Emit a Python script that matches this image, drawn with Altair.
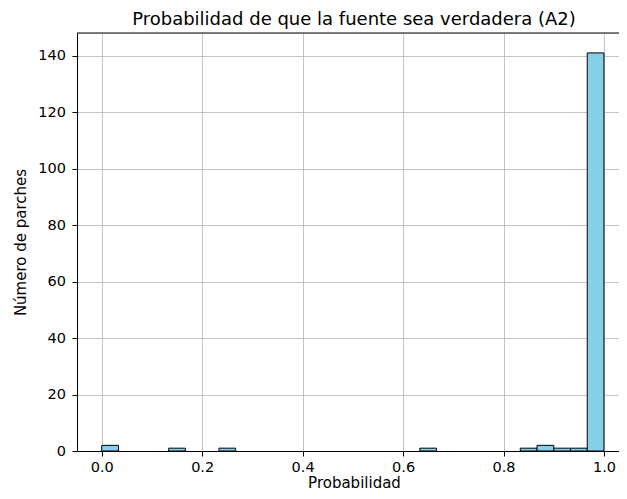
import altair as alt
import numpy as np
import pandas as pd

# histogram: 30 equal bins on [0, 1]
n_bins = 30
bin_counts = [2, 0, 0, 0, 1, 0, 0, 1, 0, 0,
              0, 0, 0, 0, 0, 0, 0, 0, 0, 1,
              0, 0, 0, 0, 0, 1, 2, 1, 1, 141]
x_ticks = [0.0, 0.2, 0.4, 0.6, 0.8, 1.0]
y_ticks = [0, 20, 40, 60, 80, 100, 120, 140]
title_text = "Probabilidad de que la fuente sea verdadera (A2)"

edges = np.linspace(0, 1, n_bins + 1)
df = pd.DataFrame({"start": edges[:-1], "end": edges[1:], "count": bin_counts})
df = df[df["count"] > 0]

FONT = "DejaVu Sans"
PW, PH = 542, 418
xscale = alt.Scale(domain=[-0.0492, 1.0299], nice=False, zero=False)
yscale = alt.Scale(domain=[0, 148.05], nice=False)

bars = alt.Chart(df).mark_bar(
    color="#87CEEB", stroke="black", strokeWidth=1, opacity=1
).encode(
    x=alt.X("start:Q", scale=xscale, axis=alt.Axis(
        values=x_ticks, format=".1f", title="Probabilidad",
        grid=True, gridColor="#b0b0b0", gridOpacity=0.75, gridWidth=1,
        domainColor="black", tickColor="black", tickSize=5, labelPadding=4.5,
        labelFont=FONT, labelFontSize=14.5, labelColor="black",
        titleFont=FONT, titleFontSize=15, titleFontWeight="normal", titleColor="black",
        titleX=277, titleY=36, titleBaseline="alphabetic", titleAnchor="middle",
    )),
    x2="end:Q",
    y=alt.Y("count:Q", scale=yscale, axis=alt.Axis(
        values=y_ticks, title="Número de parches",
        grid=True, gridColor="#b0b0b0", gridOpacity=0.75, gridWidth=1,
        domainColor="black", tickColor="black", tickSize=5, labelPadding=6.5,
        labelFont=FONT, labelFontSize=14.5, labelColor="black",
        titleFont=FONT, titleFontSize=15, titleFontWeight="normal", titleColor="black",
        titleAngle=270, titleX=-51.5, titleY=209, titleBaseline="alphabetic", titleAlign="center",
    )),
    y2=alt.datum(0),
)

top_frame = alt.Chart(pd.DataFrame({"a": [0]})).mark_rule(color="black", strokeWidth=1).encode(
    x=alt.value(0), x2=alt.value(PW), y=alt.value(0)
)

title = alt.Chart(pd.DataFrame({"t": [title_text]})).mark_text(
    font=FONT, fontSize=18, color="black", align="center", baseline="alphabetic"
).encode(x=alt.value(277), y=alt.value(-8), text="t:N")

chart = alt.layer(bars, top_frame, title).properties(
    width=PW,
    height=PH,
    autosize=alt.AutoSizeParams(type="none"),
    padding={"left": 69, "top": 25, "right": 0, "bottom": 40},
).configure_view(stroke="transparent").configure(background="white")

chart.save("out.html", embed_options={"renderer": "svg", "actions": False})
